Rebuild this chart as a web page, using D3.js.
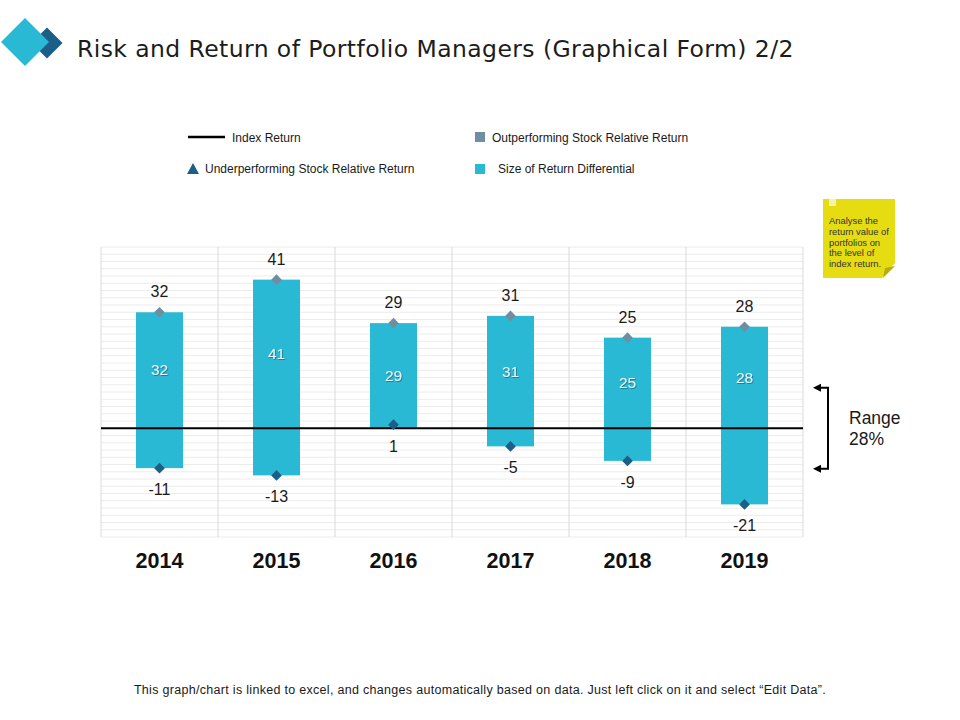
<!DOCTYPE html>
<html lang="en">
<head>
<meta charset="utf-8">
<title>Risk and Return of Portfolio Managers</title>
<script src="https://d3js.org/d3.v7.min.js"></script>
<style>
  html, body { margin: 0; padding: 0; background: #fff; }
  text { font-family: "Liberation Sans", Arial, sans-serif; fill: #1a1a1a; }
  .title { font-family: "DejaVu Sans", Verdana, sans-serif; font-size: 23.5px; letter-spacing: 0.41px; fill: #1c1c1c; }
  .legend { font-size: 12px; }
  .year { font-size: 21.5px; font-weight: bold; fill: #111; }
  .val { font-size: 16px; }
  .inner { font-size: 15.5px; fill: #e6f6fa; }
  .note { font-size: 9.4px; fill: #333; }
  .foot { font-size: 12.5px; letter-spacing: 0.3px; }
</style>
</head>
<body>
<script>
var years = ["2014", "2015", "2016", "2017", "2018", "2019"];
var highs = [32, 41, 29, 31, 25, 28];
var lows = [-11, -13, 1, -5, -9, -21];
var rangeTop = 11.2;
var rangeBottom = -11.2;
var rangeLines = ["Range", "28%"];
var noteLines = ["Analyse the", "return value of", "portfolios on", "the level of", "index return."];
var footer = "This graph/chart is linked to excel, and changes automatically based on data. Just left click on it and select \u201cEdit Data\u201d.";

var w = 960, h = 720;
var teal = "#29b9d5", navy = "#1c5f86", slate = "#6f8ea0";

var svg = d3.select("body").append("svg").attr("width", w).attr("height", h).style("display", "block");

var x = d3.scaleBand().domain(years).range([101, 803]);
var y = d3.scaleLinear().domain([-30, 50]).range([537, 247]);

// shadow for the labels inside the bars
var defs = svg.append("defs");
var f = defs.append("filter").attr("id", "txtShadow").attr("x", "-30%").attr("y", "-30%").attr("width", "160%").attr("height", "160%");
f.append("feDropShadow").attr("dx", 0.8).attr("dy", 0.8).attr("stdDeviation", 0.5).attr("flood-color", "#1a5b6b").attr("flood-opacity", 0.8);

// logo
var diamond = function (cx, cy, r) { return [[cx, cy - r], [cx + r, cy], [cx, cy + r], [cx - r, cy]].join(" "); };
svg.append("polygon").attr("points", diamond(47, 43, 15.5)).attr("fill", navy);
svg.append("polygon").attr("points", diamond(25, 42, 24)).attr("fill", teal);

svg.append("text").attr("class", "title").attr("x", 77).attr("y", 57).text("Risk and Return of Portfolio Managers (Graphical Form) 2/2");

// legend
var lg = svg.append("g").attr("class", "legend");
lg.append("line").attr("x1", 188).attr("x2", 225).attr("y1", 137).attr("y2", 137).attr("stroke", "#000").attr("stroke-width", 2.5);
lg.append("text").attr("x", 232).attr("y", 142).text("Index Return");
lg.append("path").attr("transform", "translate(193,169)").attr("d", "M0,-6L6,5H-6Z").attr("fill", navy);
lg.append("text").attr("x", 205).attr("y", 173).text("Underperforming Stock Relative Return");
lg.append("rect").attr("x", 475).attr("y", 132).attr("width", 10).attr("height", 10).attr("fill", slate);
lg.append("text").attr("x", 492).attr("y", 142).text("Outperforming Stock Relative Return");
lg.append("rect").attr("x", 475).attr("y", 164).attr("width", 10).attr("height", 10).attr("fill", teal);
lg.append("text").attr("x", 498).attr("y", 173).text("Size of Return Differential");

// sticky note
var note = svg.append("g");
note.append("path").attr("d", "M823,199H895V263L882,278H823Z").attr("fill", "#e6dc12");
note.append("path").attr("d", "M895,266L883,278L885,268Z").attr("fill", "#b5ad10");
note.append("rect").attr("x", 829).attr("y", 199).attr("width", 7).attr("height", 7).attr("fill", "#f6f2a8");
note.selectAll("text").data(noteLines).enter().append("text")
  .attr("class", "note").attr("x", 829).attr("y", function (d, i) { return 224 + i * 10.8; }).text(function (d) { return d; });

// minor gridlines, every 2 units
var grid = svg.append("g");
grid.selectAll("line.h").data(d3.range(-30, 51, 2)).enter().append("line")
  .attr("class", "h").attr("x1", 101).attr("x2", 803)
  .attr("y1", function (d) { return y(d); }).attr("y2", function (d) { return y(d); })
  .attr("stroke", "#ececec").attr("stroke-width", 1);
grid.selectAll("line.v").data(years.concat(["end"])).enter().append("line")
  .attr("class", "v")
  .attr("x1", function (d) { return d === "end" ? x.range()[1] : x(d); })
  .attr("x2", function (d) { return d === "end" ? x.range()[1] : x(d); })
  .attr("y1", y(50)).attr("y2", y(-30))
  .attr("stroke", "#dadada").attr("stroke-width", 1);

var barW = 47;
var cx = function (d) { return x(d) + x.bandwidth() / 2; };

// bars go from the high value down to the low one (or the index line)
svg.selectAll("rect.bar").data(years).enter().append("rect")
  .attr("class", "bar")
  .attr("x", function (d) { return cx(d) - barW / 2; })
  .attr("width", barW)
  .attr("y", function (d, i) { return y(highs[i]); })
  .attr("height", function (d, i) { return y(Math.min(lows[i], 0)) - y(highs[i]); })
  .attr("fill", teal);

// index return line
svg.append("line").attr("x1", 101).attr("x2", 803).attr("y1", y(0)).attr("y2", y(0)).attr("stroke", "#000").attr("stroke-width", 2);

// markers
var sym = d3.symbol().type(d3.symbolDiamond2).size(72);
svg.selectAll("path.high").data(years).enter().append("path")
  .attr("class", "high").attr("d", sym)
  .attr("transform", function (d, i) { return "translate(" + cx(d) + "," + y(highs[i]) + ")"; })
  .attr("fill", slate);
svg.selectAll("path.low").data(years).enter().append("path")
  .attr("class", "low").attr("d", sym)
  .attr("transform", function (d, i) { return "translate(" + cx(d) + "," + y(lows[i]) + ")"; })
  .attr("fill", navy);

// labels
svg.selectAll("text.inner").data(years).enter().append("text")
  .attr("class", "inner").attr("text-anchor", "middle").attr("filter", "url(#txtShadow)")
  .attr("x", cx).attr("y", function (d, i) { return y(highs[i] / 2) + 5; })
  .text(function (d, i) { return highs[i]; });
svg.selectAll("text.hi").data(years).enter().append("text")
  .attr("class", "val hi").attr("text-anchor", "middle")
  .attr("x", cx).attr("y", function (d, i) { return y(highs[i]) - 15; })
  .text(function (d, i) { return highs[i]; });
svg.selectAll("text.lo").data(years).enter().append("text")
  .attr("class", "val lo").attr("text-anchor", "middle")
  .attr("x", cx).attr("y", function (d, i) { return y(lows[i]) + 27; })
  .text(function (d, i) { return lows[i]; });
svg.selectAll("text.year").data(years).enter().append("text")
  .attr("class", "year").attr("text-anchor", "middle")
  .attr("x", cx).attr("y", 568)
  .text(function (d) { return d; });

// range bracket
var br = svg.append("g").attr("stroke", "#000").attr("stroke-width", 2).attr("fill", "none");
br.append("path").attr("d", "M820," + y(rangeTop) + "H828V" + y(rangeBottom) + "H820");
svg.append("path").attr("d", "M813," + y(rangeTop) + "l8,-4v8Z");
svg.append("path").attr("d", "M813," + y(rangeBottom) + "l8,-4v8Z");
svg.selectAll("text.range").data(rangeLines).enter().append("text")
  .attr("class", "range").attr("x", 849).attr("font-size", 17.5)
  .attr("y", function (d, i) { return 424 + i * 21; }).text(function (d) { return d; });

svg.append("text").attr("class", "foot").attr("x", 480).attr("y", 694).attr("text-anchor", "middle").text(footer);
</script>
</body>
</html>
